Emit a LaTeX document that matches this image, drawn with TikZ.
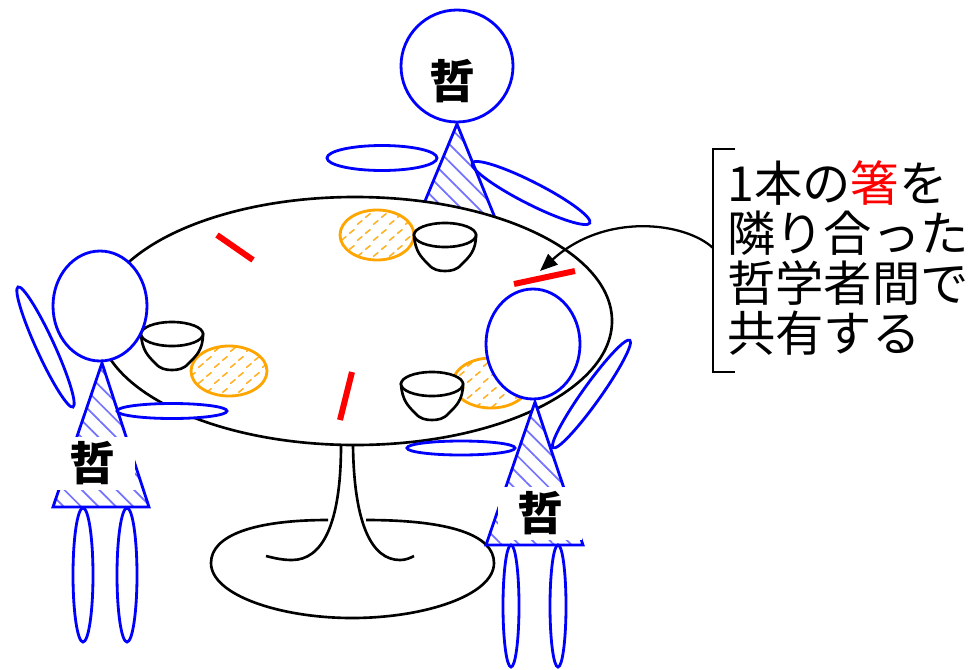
\documentclass[tikz,border=0pt]{standalone}
\usepackage{fontspec}
\newfontfamily\jp{Noto Sans CJK JP}
\usetikzlibrary{arrows.meta, patterns, patterns.meta}

\definecolor{riceOrange}{RGB}{255,165,0}

\pgfdeclarepatternformonly{ricegrain}{\pgfqpoint{0pt}{0pt}}{\pgfqpoint{9pt}{9pt}}{\pgfqpoint{9pt}{9pt}}{%
  \pgfsetlinewidth{0.9pt}\pgfsetroundcap
  \pgfpathmoveto{\pgfqpoint{1pt}{5pt}}\pgfpathlineto{\pgfqpoint{3.5pt}{7pt}}%
  \pgfpathmoveto{\pgfqpoint{5.5pt}{1pt}}\pgfpathlineto{\pgfqpoint{8pt}{3pt}}%
  \pgfusepath{stroke}}

\tikzset{
  bowl/.pic={
    \draw[fill=white] (-31,0) .. controls (-30,16) and (-24,22) .. (-17,29)
      .. controls (-12,35) and (-6,36) .. (0,36) .. controls (6,36) and (12,35) .. (17,29)
      .. controls (24,22) and (31,16) .. (31,0) -- cycle;
    \draw[fill=white] (0,0) ellipse[x radius=31, y radius=12];
  }
}

\begin{document}
\begin{tikzpicture}[x=0.02cm, y=-0.02cm, line width=1.5pt,
    person/.style={draw=blue, line width=1.6pt},
    limb/.style={person, fill=white},
    robe/.style={person, preaction={fill=white},
      pattern={Lines[angle=-45, distance=7pt, line width=1pt]}, pattern color=blue!55},
    rice/.style={draw=riceOrange, line width=1.6pt, preaction={fill=white}, pattern=ricegrain, pattern color=riceOrange!85},
    chopstick/.style={draw=red, line width=3.4pt},
    tag/.style={font=\jp\bfseries\fontsize{26}{26}\selectfont, inner sep=0pt}]
  \useasboundingbox (0,0) rectangle (972,669);

  % philosopher behind the table
  \draw[robe] (457,124) -- (413,230) -- (504,240) -- cycle;
  \draw[limb] (457,66) circle[radius=56];
  \node[tag] (tagTop) at (452,81) {哲};
  \draw[person] (382,158) ellipse[x radius=55, y radius=12.5];
  \draw[person, rotate around={-27:(531,193)}] (531,193) ellipse[x radius=66, y radius=11];

  % table
  \draw[fill=white] (355,321) ellipse[x radius=257, y radius=124];
  \draw (366,520) .. controls (450,520) and (494,535) .. (494,563)
    .. controls (494,595) and (425,618) .. (352,618)
    .. controls (280,618) and (211,595) .. (211,563)
    .. controls (211,535) and (255,520) .. (328,520);
  \draw (341,445) .. controls (341,525) and (322,560) .. (292,560) .. controls (282,560) and (274,558) .. (266,556);
  \draw (353,445) .. controls (354,525) and (372,560) .. (400,560) .. controls (406,560) and (410,558) .. (414,556);

  % rice, bowls and chopsticks
  \draw[rice] (377,235) ellipse[x radius=37, y radius=25];
  \draw[rice] (229,371) ellipse[x radius=38, y radius=25];
  \draw[rice] (491,383) ellipse[x radius=38, y radius=25];
  \pic at (445,235) {bowl};
  \pic at (172,334) {bowl};
  \pic at (432,384) {bowl};
  \draw[chopstick] (217,235) -- (253,260);
  \draw[chopstick] (352,372) -- (340,420);
  \draw[chopstick] (514,284) -- (575,271);

  % left philosopher
  \draw[limb] (100,306) ellipse[x radius=47, y radius=55];
  \draw[robe] (102,363) -- (53,507) -- (149,507) -- cycle;
  \draw[limb, rotate around={-65.4:(45.5,347)}] (45.5,347) ellipse[x radius=66, y radius=9];
  \draw[limb] (172,411) ellipse[x radius=55, y radius=7.5];
  \draw[limb] (83,575) ellipse[x radius=10, y radius=67];
  \draw[limb] (127,575) ellipse[x radius=10, y radius=67];
  \node[tag, fill=white, minimum width=48pt, minimum height=30pt] (tagLeft) at (92.5,463.5) {哲};

  % right philosopher
  \draw[limb] (533,344) ellipse[x radius=47, y radius=55];
  \draw[robe] (535,402) -- (486,545) -- (583,545) -- cycle;
  \draw[limb] (461,448) ellipse[x radius=54, y radius=7];
  \draw[limb, rotate around={54.5:(591.5,394)}] (591.5,394) ellipse[x radius=66, y radius=9];
  \draw[limb] (511,606) ellipse[x radius=8, y radius=61];
  \draw[limb] (558,606) ellipse[x radius=8, y radius=61];
  \node[tag, fill=white, minimum width=48pt, minimum height=30pt] (tagRight) at (540,513.5) {哲};

  % note
  \node[anchor=west, inner sep=0pt, align=left, font=\jp\fontsize{27.5}{28.5}\selectfont]
    (noteText) at (726,258) {1本の{\color{red}箸}を\\隣り合った\\哲学者間で\\共有する};
  \draw (735,149) -- (713,149) -- (713,372) -- (735,372);
  \coordinate (noteFoot) at (713,248);
  \coordinate (chopMark) at (540,271);
  \draw[line width=1.3pt, -{Triangle[length=10pt, width=8pt]}] (noteFoot) .. controls (685,222) and (605,212) .. (chopMark);
\end{tikzpicture}
\end{document}
